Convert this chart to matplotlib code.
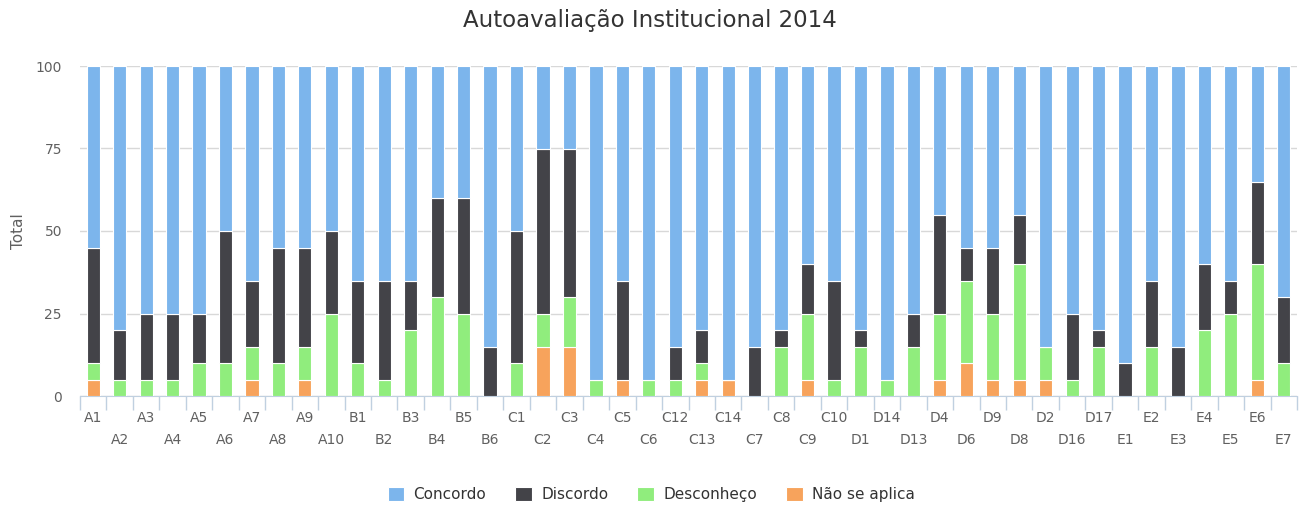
import numpy as np
import matplotlib.pyplot as plt

# categories as they appear on the x axis
categories = ["A1", "A2", "A3", "A4", "A5", "A6", "A7", "A8", "A9", "A10",
              "B1", "B2", "B3", "B4", "B5", "B6",
              "C1", "C2", "C3", "C4", "C5", "C6", "C12", "C13", "C14", "C7", "C8", "C9", "C10",
              "D1", "D14", "D13", "D4", "D6", "D9", "D8", "D2", "D16", "D17",
              "E1", "E2", "E3", "E4", "E5", "E6", "E7"]

# percentages per answer
concordo = [55, 80, 75, 75, 75, 50, 65, 55, 55, 50,
            65, 65, 65, 40, 40, 85,
            50, 25, 25, 95, 65, 95, 85, 80, 95, 85, 80, 60, 65,
            80, 95, 75, 45, 55, 55, 45, 85, 75, 80,
            90, 65, 85, 60, 65, 35, 70]
discordo = [35, 15, 20, 20, 15, 40, 20, 35, 30, 25,
            25, 30, 15, 30, 35, 15,
            40, 50, 45, 0, 30, 0, 10, 10, 0, 15, 5, 15, 30,
            5, 0, 10, 30, 10, 20, 15, 0, 20, 5,
            10, 20, 15, 20, 10, 25, 20]
desconheco = [5, 5, 5, 5, 10, 10, 10, 10, 10, 25,
              10, 5, 20, 30, 25, 0,
              10, 10, 15, 5, 0, 5, 5, 5, 0, 0, 15, 20, 5,
              15, 5, 15, 20, 25, 20, 35, 10, 5, 15,
              0, 15, 0, 20, 25, 35, 10]
nao_aplica = [5, 0, 0, 0, 0, 0, 5, 0, 5, 0,
              0, 0, 0, 0, 0, 0,
              0, 15, 15, 0, 5, 0, 0, 5, 5, 0, 0, 5, 0,
              0, 0, 0, 5, 10, 5, 5, 5, 0, 0,
              0, 0, 0, 0, 0, 5, 0]

series_names = ["Concordo", "Discordo", "Desconheço", "Não se aplica"]
colors = ["#7cb5ec", "#434348", "#90ed7d", "#f7a35c"]

fig = plt.figure(figsize=(13, 5.07), dpi=100)
ax = fig.add_axes([80/1300, 1-396/507, 1217/1300, 330/507])

x = np.arange(len(categories))
# stacked from the bottom: last series first
stack = [nao_aplica, desconheco, discordo, concordo]
stack_colors = colors[::-1]
stack_names = series_names[::-1]
bottom = np.zeros(len(categories))
handles = {}
for vals, col, name in zip(stack, stack_colors, stack_names):
    vals = np.array(vals, dtype=float)
    b = ax.bar(x, vals, bottom=bottom, width=0.5, color=col, edgecolor="white",
               linewidth=0.8, zorder=3, label=name)
    handles[name] = b
    bottom += vals

ax.set_xlim(-0.5, len(categories) - 0.5)
ax.set_ylim(0, 100)
ax.set_yticks([0, 25, 50, 75, 100])
ax.grid(axis="y", color="#d8d8d8", linewidth=1, zorder=0)
ax.tick_params(axis="y", length=0, pad=13, labelsize=10, labelcolor="#606060")

for s in ["top", "right", "left"]:
    ax.spines[s].set_visible(False)
ax.spines["bottom"].set_color("#c0d0e0")

# staggered category labels
ax.set_xticks(x[::2])
ax.set_xticklabels(categories[::2])
ax.set_xticks(x[1::2], minor=True)
ax.set_xticklabels(categories[1::2], minor=True)
ax.tick_params(axis="x", which="major", length=0, pad=11, labelsize=10, labelcolor="#606060")
ax.tick_params(axis="x", which="minor", length=0, pad=27, labelsize=10, labelcolor="#606060")

# tick marks between categories
sec = ax.secondary_xaxis("bottom")
sec.set_xticks(np.arange(len(categories) + 1) - 0.5)
sec.set_xticklabels([])
sec.tick_params(length=10, color="#c0d0e0", width=1)
sec.spines["bottom"].set_visible(False)

ax.set_ylabel("Total", fontsize=11, color="#606060", labelpad=7)

fig.suptitle("Autoavaliação Institucional 2014", fontsize=16.5, color="#333333", y=0.982)

fig.legend([handles[n] for n in series_names], series_names, loc="center",
           bbox_to_anchor=(0.501, 0.025), ncol=4, frameon=False, fontsize=11,
           handlelength=1.1, handleheight=1.1, handletextpad=0.6, columnspacing=1.9,
           labelcolor="#333333")

fig.savefig("out.png", dpi=100, facecolor="white")
